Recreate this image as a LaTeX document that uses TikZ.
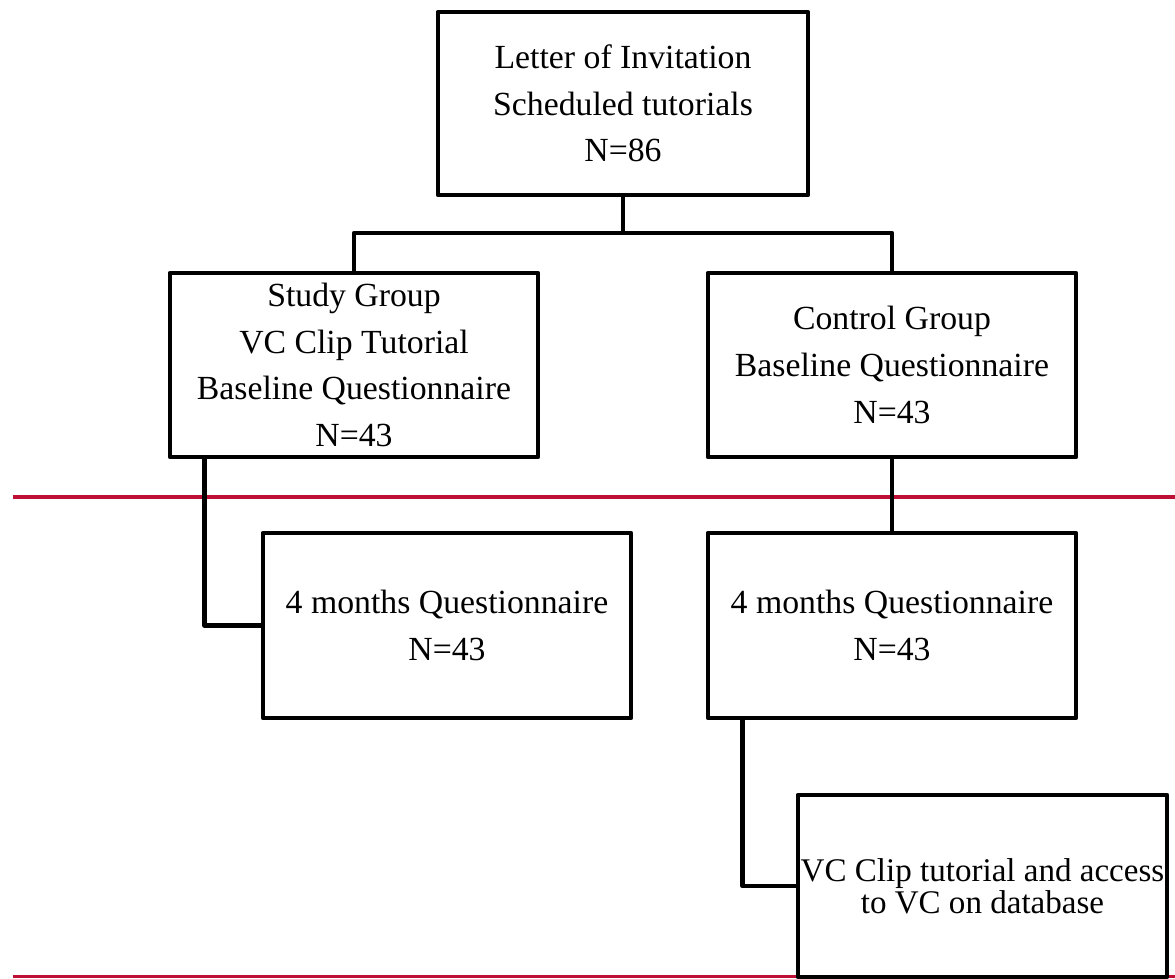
\documentclass[tikz,border=0pt]{standalone}
\usepackage{fontspec}
\setmainfont{Liberation Serif}
\usepackage{tikz}
\usetikzlibrary{positioning}
\usepackage{xcolor}
\definecolor{phasered}{RGB}{190,16,52}

\begin{document}
\begin{tikzpicture}[x=0.01cm, y=-0.01cm,
    box/.style={draw, line width=0.045cm, line join=round, fill=white, inner sep=0pt,
                align=center, font=\fontsize{9.6}{13.3}\selectfont},
    link/.style={line width=0.045cm, line join=round},
    phase/.style={draw=phasered, line width=0.03cm}]
          \useasboundingbox (0,0) rectangle (1175,979);
          % phase separators
          \draw[phase] (13,497) -- (1175,497);
          \draw[phase] (13,976) -- (1175,976);
          % Recruitment
          \node[box, minimum width=3.70cm, minimum height=1.83cm] (invite) at (623,103.5)
                {Letter of Invitation\\Scheduled tutorials\\N=86};
          % Branch 1: study group
          \node[box, minimum width=3.68cm, minimum height=1.84cm] (study) at (354,365)
                {Study Group\\VC Clip Tutorial\\Baseline Questionnaire\\N=43};
          % Branch 2: control group
          \node[box, minimum width=3.68cm, minimum height=1.84cm] (control) at (892,365)
                {Control Group\\Baseline Questionnaire\\N=43};
          % Follow-up at 4 months
          \node[box, minimum width=3.68cm, minimum height=1.85cm] (studyq) at (447,625.5)
                {4 months Questionnaire\\N=43};
          \node[box, minimum width=3.68cm, minimum height=1.85cm] (controlq) at (892,625.5)
                {4 months Questionnaire\\N=43};
          \node[box, minimum width=3.69cm, minimum height=1.82cm,
                font=\fontsize{9.4}{9.2}\selectfont] (access) at (982.5,886)
                {VC Clip tutorial and access\\to VC on database};
          \coordinate (fork) at (623,233);
          \coordinate (sdrop) at ([xshift=0.37cm]study.south west);
          \coordinate (cdrop) at ([xshift=0.37cm]controlq.south west);
          \draw[link] (invite.south) -- (fork);
          \draw[link] (study.north) |- (fork) -| (control.north);
          \draw[link] (sdrop) |- (studyq.west);
          \draw[link] (control.south) -- (controlq.north);
          \draw[link] (cdrop) |- (access.west);
        \end{tikzpicture}
\end{document}
